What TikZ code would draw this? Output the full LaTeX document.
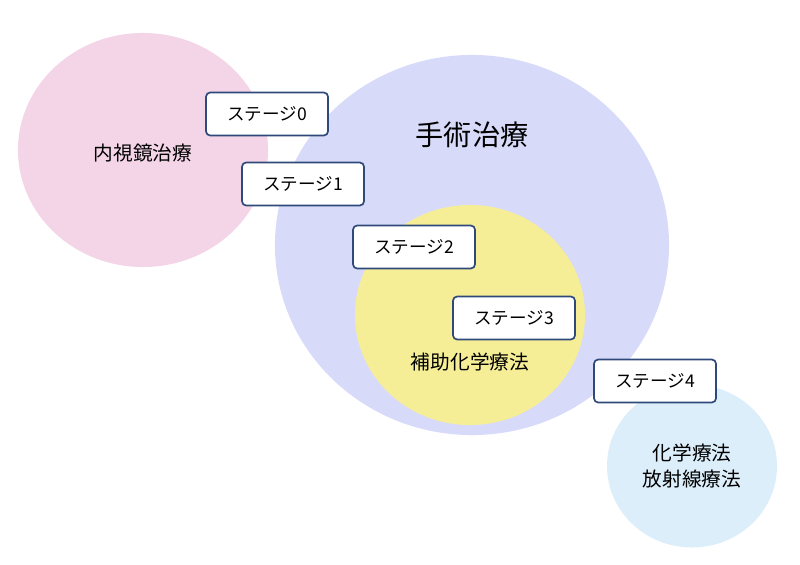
\documentclass[tikz,border=0pt]{standalone}
\usepackage{fontspec}
\setmainfont{Noto Sans CJK JP}
\usetikzlibrary{shapes.geometric}
\definecolor{pinkfill}{HTML}{F4D5E8}
\definecolor{bluefill}{HTML}{D8DAFA}
\definecolor{yellowfill}{HTML}{F5EE96}
\definecolor{skyfill}{HTML}{DDEEFB}
\definecolor{boxline}{HTML}{2F4A7A}
\tikzstyle{area}=[ellipse,inner sep=0pt]
\tikzstyle{stagebox}=[rectangle,rounded corners=3pt,fill=white,draw=boxline,line width=1.2pt,minimum width=3.05cm,minimum height=1.075cm,font=\fontsize{12.5}{15}\selectfont]
\begin{document}
\begin{tikzpicture}[x=0.025cm,y=-0.025cm]
    \useasboundingbox (0,0) rectangle (800,564);
    \node [area,fill=pinkfill,minimum width=6.25cm,minimum height=5.85cm] (Endo) at (143,150) {};
    \node [area,fill=bluefill,minimum width=9.85cm,minimum height=9.5cm] (Surg) at (472,245) {};
    \node [area,fill=yellowfill,minimum width=5.75cm,minimum height=5.5cm] (Adj) at (470,315) {};
    \node [area,fill=skyfill,minimum width=4.25cm,minimum height=4.075cm] (Chemo) at (692,466) {};

    \node [font=\fontsize{14}{17}\selectfont] (EndoText) at (143,153) {内視鏡治療};
    \node [font=\fontsize{20}{24}\selectfont] (SurgText) at (472,135) {手術治療};
    \node [font=\fontsize{14}{17}\selectfont] (AdjText) at (470,362) {補助化学療法};
    \node [font=\fontsize{14}{19}\selectfont,align=center] (ChemoText) at (692,466) {化学療法\\放射線療法};

    \node [stagebox] (S0) at (267,114) {ステージ0};
    \node [stagebox] (S1) at (303,184) {ステージ1};
    \node [stagebox] (S2) at (414,247) {ステージ2};
    \node [stagebox] (S3) at (514,318) {ステージ3};
    \node [stagebox] (S4) at (655,381) {ステージ4};
\end{tikzpicture}
\end{document}
